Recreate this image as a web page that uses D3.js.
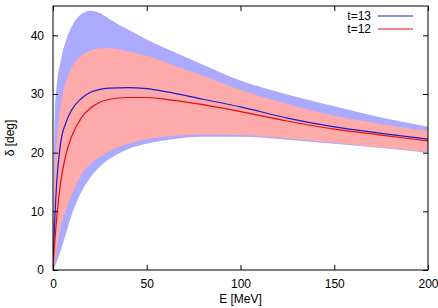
<html>
<head>
<script src='https://d3js.org/d3.v7.min.js'></script>
<style>
  body { margin:0; background:white; }
  svg { display:block; font-family: "Liberation Sans", Arial, sans-serif; }
</style>
</head>
<body>
<svg width=438 height=308></svg>
<script>

// energy grid [MeV]
var energy   = [0, 0.5, 1, 2, 4, 7, 10, 15, 20, 25, 30, 40, 50, 60, 80, 100, 125, 150, 175, 200];

// t=13 band and central line
var t13Upper = [0, 18, 27, 31.5, 35.5, 39.2, 41.5, 43.6, 44.2, 43.8, 42.8, 41, 39.3, 37.8, 35.0, 32.3, 29.9, 27.9, 26.0, 24.4];
var t13Lower = [0, 0.3, 0.6, 1.4, 3.2, 6.3, 9.4, 13.2, 15.8, 17.6, 18.9, 20.6, 21.5, 22.1, 22.7, 22.7, 22.2, 21.5, 20.8, 20.0];
var t13Line  = [0, 5, 9, 15, 21.5, 25.2, 27.3, 29.2, 30.3, 30.8, 31.0, 31.1, 30.9, 30.4, 29.1, 27.8, 25.9, 24.4, 23.3, 22.3];

// t=12 band and central line
var t12Upper = [0, 10, 17, 22, 27.8, 32.2, 34.5, 36.5, 37.4, 37.8, 37.8, 37.3, 36.5, 35.4, 33.1, 30.7, 28.3, 26.3, 24.9, 23.7];
var t12Lower = [0, 0.8, 1.5, 3.5, 7.2, 10.3, 12.8, 16.2, 18.1, 19.3, 20.2, 21.5, 22.3, 22.7, 23.1, 23.0, 22.4, 21.7, 20.9, 20.1];
var t12Line  = [0, 3, 5, 9, 14.8, 19.8, 22.8, 25.9, 27.6, 28.6, 29.1, 29.4, 29.4, 29.1, 28.2, 27.0, 25.4, 24.0, 23.0, 22.0];

var xTicks = [0, 50, 100, 150, 200];
var yTicks = [0, 10, 20, 30, 40];

var pLeft = 53, pRight = 428, pTop = 6, pBottom = 270;

var svg = d3.select("svg");

var x = d3.scaleLinear().domain([0, 200]).range([pLeft, pRight]);
var y = d3.scaleLinear().domain([0, 45]).range([pBottom, pTop]);

function rows(lo, hi) {
  return energy.map(function(e, i) { return {e: e, lo: lo[i], hi: hi[i]}; });
}

var area = d3.area()
  .x(function(d) { return x(d.e); })
  .y0(function(d) { return y(d.lo); })
  .y1(function(d) { return y(d.hi); })
  .curve(d3.curveMonotoneX);

var line = d3.line()
  .x(function(d) { return x(d.e); })
  .y(function(d) { return y(d.lo); })
  .curve(d3.curveMonotoneX);

svg.append("defs").append("clipPath").attr("id", "clip")
  .append("rect").attr("x", pLeft).attr("y", pTop)
  .attr("width", pRight - pLeft).attr("height", pBottom - pTop);

var plot = svg.append("g").attr("clip-path", "url(#clip)");

plot.append("path").datum(rows(t13Lower, t13Upper))
  .attr("d", area).attr("fill", "#aaaaff");
plot.append("path").datum(rows(t12Lower, t12Upper))
  .attr("d", area).attr("fill", "#ffaaaa");

plot.append("path").datum(rows(t13Line, t13Line))
  .attr("d", line).attr("fill", "none").attr("stroke", "#1a1acc").attr("stroke-width", 1.2);
plot.append("path").datum(rows(t12Line, t12Line))
  .attr("d", line).attr("fill", "none").attr("stroke", "#e01010").attr("stroke-width", 1.2);

// axes (gnuplot style: inward ticks, mirrored)
var tl = 5;
svg.append("g").attr("transform", "translate(0," + pBottom + ")")
  .call(d3.axisBottom(x).tickValues(xTicks).tickSizeInner(-tl).tickSizeOuter(0).tickPadding(9))
  .call(function(g) { g.select(".domain").remove(); });
svg.append("g").attr("transform", "translate(0," + pTop + ")")
  .call(d3.axisTop(x).tickValues(xTicks).tickSizeInner(-tl).tickSizeOuter(0).tickFormat(""))
  .call(function(g) { g.select(".domain").remove(); });
svg.append("g").attr("transform", "translate(" + pLeft + ",0)")
  .call(d3.axisLeft(y).tickValues(yTicks).tickSizeInner(-tl).tickSizeOuter(0).tickPadding(9))
  .call(function(g) { g.select(".domain").remove(); });
svg.append("g").attr("transform", "translate(" + pRight + ",0)")
  .call(d3.axisRight(y).tickValues(yTicks).tickSizeInner(-tl).tickSizeOuter(0).tickFormat(""))
  .call(function(g) { g.select(".domain").remove(); });

svg.selectAll(".tick text").style("font-size", "12px").attr("fill", "#000")
  .style("font-family", "'Liberation Sans', Arial, sans-serif");

svg.append("rect").attr("x", pLeft).attr("y", pTop)
  .attr("width", pRight - pLeft).attr("height", pBottom - pTop)
  .attr("fill", "none").attr("stroke", "black").attr("stroke-width", 1);

// axis labels
svg.append("text").attr("x", (pLeft + pRight) / 2).attr("y", 303)
  .attr("text-anchor", "middle").style("font-size", "12px").text("E [MeV]");
svg.append("text").attr("transform", "translate(14," + ((pTop + pBottom) / 2) + ") rotate(-90)")
  .attr("text-anchor", "middle").style("font-size", "12px").text("δ [deg]");

// legend
var legend = [{name: "t=13", color: "#1a1acc"}, {name: "t=12", color: "#e01010"}];
legend.forEach(function(d, i) {
  var ly = 16 + i * 13;
  svg.append("text").attr("x", 371).attr("y", ly + 4)
    .attr("text-anchor", "end").style("font-size", "12px").text(d.name);
  svg.append("line").attr("x1", 378).attr("x2", 413).attr("y1", ly).attr("y2", ly)
    .attr("stroke", d.color).attr("stroke-width", 1.2);
});

</script>
</body>
</html>
